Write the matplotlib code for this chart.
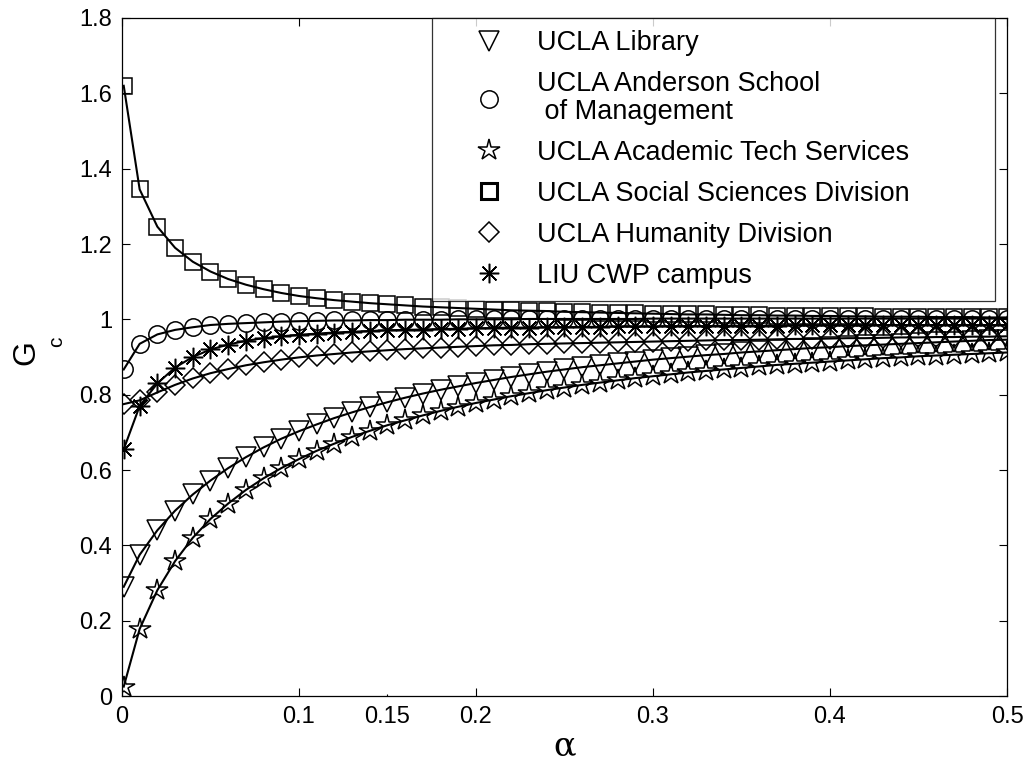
import numpy as np
import matplotlib
matplotlib.use("Agg")
import matplotlib.pyplot as plt
from matplotlib.lines import Line2D
from matplotlib.ticker import FuncFormatter

plt.rcParams['font.family'] = ['Liberation Sans', 'DejaVu Sans']

# alpha values where the markers sit
alpha = [0.001, 0.01, 0.02, 0.03, 0.04, 0.05, 0.06, 0.07, 0.08, 0.09,
         0.10, 0.11, 0.12, 0.13, 0.14, 0.15, 0.16, 0.17, 0.18, 0.19,
         0.20, 0.21, 0.22, 0.23, 0.24, 0.25, 0.26, 0.27, 0.28, 0.29,
         0.30, 0.31, 0.32, 0.33, 0.34, 0.35, 0.36, 0.37, 0.38, 0.39,
         0.40, 0.41, 0.42, 0.43, 0.44, 0.45, 0.46, 0.47, 0.48, 0.49, 0.50]

# G_c
library = [0.290, 0.375, 0.440, 0.492, 0.535, 0.572, 0.605, 0.634, 0.660, 0.683,
           0.703, 0.721, 0.738, 0.753, 0.767, 0.780, 0.792, 0.803, 0.813, 0.822,
           0.831, 0.839, 0.847, 0.854, 0.861, 0.867, 0.873, 0.878, 0.883, 0.888,
           0.893, 0.897, 0.901, 0.905, 0.908, 0.912, 0.915, 0.918, 0.921, 0.924,
           0.926, 0.929, 0.931, 0.933, 0.935, 0.937, 0.939, 0.941, 0.943, 0.945, 0.946]
anderson = [0.867, 0.935, 0.960, 0.972, 0.979, 0.985, 0.988, 0.990, 0.992, 0.994,
            0.995, 0.996, 0.997, 0.997, 0.998, 0.998, 0.999, 0.999, 0.999, 1.000,
            1.000, 1.000, 1.000, 1.001, 1.001, 1.001, 1.001, 1.001, 1.001, 1.001,
            1.002, 1.002, 1.002, 1.002, 1.002, 1.002, 1.002, 1.002, 1.002, 1.002,
            1.002, 1.002, 1.002, 1.002, 1.002, 1.002, 1.002, 1.002, 1.002, 1.002, 1.002]
acad_tech = [0.025, 0.178, 0.281, 0.358, 0.420, 0.470, 0.511, 0.547, 0.578, 0.605,
             0.629, 0.651, 0.670, 0.688, 0.704, 0.719, 0.732, 0.745, 0.757, 0.768,
             0.778, 0.787, 0.796, 0.804, 0.812, 0.819, 0.826, 0.832, 0.838, 0.844,
             0.849, 0.854, 0.859, 0.863, 0.867, 0.871, 0.875, 0.879, 0.882, 0.885,
             0.888, 0.891, 0.894, 0.897, 0.899, 0.902, 0.904, 0.906, 0.908, 0.910, 0.912]
soc_sci = [1.620, 1.345, 1.246, 1.190, 1.153, 1.127, 1.107, 1.092, 1.080, 1.070,
           1.062, 1.056, 1.051, 1.047, 1.043, 1.040, 1.037, 1.034, 1.032, 1.030,
           1.028, 1.026, 1.024, 1.023, 1.022, 1.020, 1.019, 1.018, 1.017, 1.016,
           1.015, 1.014, 1.013, 1.013, 1.012, 1.011, 1.011, 1.010, 1.010, 1.009,
           1.009, 1.008, 1.008, 1.007, 1.007, 1.007, 1.006, 1.006, 1.006, 1.005, 1.005]
humanity = [0.775, 0.785, 0.806, 0.826, 0.843, 0.857, 0.868, 0.878, 0.886, 0.893,
            0.899, 0.904, 0.908, 0.912, 0.915, 0.918, 0.921, 0.923, 0.925, 0.927,
            0.929, 0.931, 0.932, 0.934, 0.935, 0.936, 0.937, 0.938, 0.939, 0.940,
            0.941, 0.942, 0.943, 0.944, 0.945, 0.945, 0.946, 0.947, 0.948, 0.948,
            0.949, 0.950, 0.950, 0.951, 0.952, 0.952, 0.953, 0.953, 0.954, 0.954, 0.955]
liu_cwp = [0.655, 0.770, 0.830, 0.872, 0.900, 0.920, 0.933, 0.943, 0.950, 0.955,
           0.959, 0.962, 0.965, 0.967, 0.969, 0.971, 0.972, 0.973, 0.974, 0.975,
           0.976, 0.977, 0.978, 0.978, 0.979, 0.979, 0.980, 0.980, 0.981, 0.981,
           0.981, 0.982, 0.982, 0.982, 0.983, 0.983, 0.983, 0.983, 0.984, 0.984,
           0.984, 0.984, 0.984, 0.985, 0.985, 0.985, 0.985, 0.985, 0.985, 0.985, 0.985]

series = [(library, 'v', 'UCLA Library'),
          (anderson, 'o', 'UCLA Anderson School\n of Management'),
          (acad_tech, '*', 'UCLA Academic Tech Services'),
          (soc_sci, 's', 'UCLA Social Sciences Division'),
          (humanity, 'D', 'UCLA Humanity Division'),
          (liu_cwp, (8, 2, 0), 'LIU CWP campus')]
msizes = {'v': 14, 'o': 12.5, '*': 16, 's': 12, 'D': 10}

fig = plt.figure(figsize=(10.24, 7.69), dpi=100)
ax = fig.add_axes([0.1191, 0.0949, 0.8643, 0.8817])

handles = []
for vals, mk, lab in series:
    ms = msizes.get(mk, 14)
    ax.plot(alpha, vals, '-', color='black', lw=1.5, marker=mk, ms=ms,
            mfc='none', mec='black', mew=1.1)
    handles.append(Line2D([], [], ls='none', marker=mk, ms=ms, mfc='none',
                          mec='black', mew=1.1 if mk != 's' else 2.2, label=lab))

ax.set_xlim(0, 0.5)
ax.set_ylim(0, 1.8)
ax.set_xticks([0, 0.1, 0.15, 0.2, 0.3, 0.4, 0.5])
ax.set_yticks([0, 0.2, 0.4, 0.6, 0.8, 1.0, 1.2, 1.4, 1.6, 1.8])
fmt = FuncFormatter(lambda v, p: '%g' % v)
ax.xaxis.set_major_formatter(fmt)
ax.yaxis.set_major_formatter(fmt)
ax.tick_params(direction='in', top=True, right=True, length=6, width=0.8,
               labelsize=17, pad=7)
ax.xaxis.get_major_ticks()[2].tick1line.set_markersize(1.5)
ax.xaxis.get_major_ticks()[2].tick2line.set_markersize(0)
for s in ax.spines.values():
    s.set_linewidth(0.9)

ax.set_xlabel('α', family='DejaVu Serif', fontsize=24, labelpad=2)
# G with its subscript c, placed like the original label
ax.text(-0.1085, 0.506, 'G', transform=ax.transAxes, rotation=90,
        fontsize=23, ha='center', va='center')
ax.text(-0.0734, 0.522, 'c', transform=ax.transAxes, rotation=90,
        fontsize=15, ha='center', va='center')

leg = ax.legend(handles=handles, loc='upper left', mode='expand',
                bbox_to_anchor=(0.35, 0.593, 0.636, 0.407), fontsize=19.5,
                frameon=True, fancybox=False, edgecolor='black',
                borderpad=0.45, handlelength=3.3, handletextpad=0.15,
                labelspacing=0.55, borderaxespad=0)
leg.get_frame().set_linewidth(0.9)
for t in leg.get_texts():
    t.set_linespacing(1.1)

fig.savefig('out.png', dpi=100)
